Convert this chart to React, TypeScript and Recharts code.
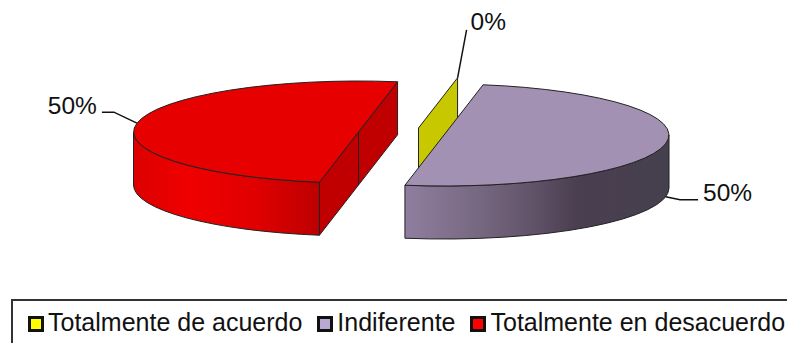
import { Legend, Pie, PieChart } from "recharts";

const categories = ["Totalmente de acuerdo", "Indiferente", "Totalmente en desacuerdo"];
const values = [0, 50, 50];

const pieData = categories.map((name, i) => ({ name, value: values[i] }));

const FONT = '"Liberation Sans", Arial, sans-serif';
const SQUASH = 0.2267; // ellipse ratio of the tilted disc
const DEPTH = 53;

// per-slice look: explode offset, top colour, wall gradient, label leader
const explode = [
  { x: 17, y: -5.5 },
  { x: 42.5, y: 1.5 },
  { x: -43, y: -1.5 },
];
const topColors = ["#c8c800", "#a391b4", "#e60000"];
const faceColors = ["#c8c800", "#7d6e8c", "#c00000"];
const legendColors = ["#ffff00", "#b9a8d2", "#ff0000"];
const wallStops: [string, string][][] = [
  [],
  [
    ["0%", "#8f7e9e"],
    ["30%", "#75667f"],
    ["50%", "#5f5166"],
    ["65%", "#4a3e50"],
    ["100%", "#45404e"],
  ],
  [
    ["0%", "#dc0000"],
    ["30%", "#f00000"],
    ["65%", "#e00000"],
    ["100%", "#be0000"],
  ],
];
const leaders = [
  { onBase: false, elbow: [9, -48], end: [9, -48], text: [13, -48], anchor: "start" },
  { onBase: true, elbow: [14.5, 3], end: [32.5, 3], text: [37.5, 4], anchor: "start" },
  { onBase: false, elbow: [-23, -11], end: [-35, -11], text: [-40, -9], anchor: "end" },
];

const rad = (deg: number) => (deg * Math.PI) / 180;

function rimPoint(cx: number, cy: number, r: number, angle: number) {
  return {
    x: cx + r * Math.cos(rad(angle)),
    y: cy - r * SQUASH * Math.sin(rad(angle)),
  };
}

function Slice3D(props: any) {
  const { cx, cy, outerRadius: r, startAngle: a1, endAngle: a2, name } = props;
  const i = categories.indexOf(name);
  const ox = cx + explode[i].x;
  const oy = cy + explode[i].y;
  const ry = r * SQUASH;
  const p1 = rimPoint(ox, oy, r, a1);
  const p2 = rimPoint(ox, oy, r, a2);
  const outline = { stroke: "#222", strokeWidth: 1, strokeLinejoin: "round" as const };

  const facePath = (a: number) => {
    const p = rimPoint(ox, oy, r, a);
    return `M${ox},${oy} L${p.x},${p.y} L${p.x},${p.y + DEPTH} L${ox},${oy + DEPTH} Z`;
  };

  // a cut face shows only when it turns towards the viewer
  const flat = a1 === a2;
  const startVisible = flat || Math.cos(rad(a1)) < 0;
  const endVisible = !flat && Math.sin(rad(a2 - 90)) < 0;

  // the outer wall exists only on the front half of the disc
  const hi = Math.min(a1, 0);
  const lo = Math.max(a2, -180);
  const gradId = `wall-${i}`;
  let wall = null;
  if (hi > lo) {
    const h = rimPoint(ox, oy, r, hi);
    const l = rimPoint(ox, oy, r, lo);
    wall = (
      <path
        d={`M${h.x},${h.y} A${r},${ry} 0 0 1 ${l.x},${l.y} L${l.x},${l.y + DEPTH} A${r},${ry} 0 0 0 ${h.x},${h.y + DEPTH} Z`}
        fill={`url(#${gradId})`}
        {...outline}
      />
    );
  }

  return (
    <g>
      <defs>
        <linearGradient id={gradId} x1="0" y1="0" x2="1" y2="0">
          {wallStops[i].map(([offset, color]) => (
            <stop key={offset} offset={offset} stopColor={color} />
          ))}
        </linearGradient>
      </defs>
      {startVisible && <path d={facePath(a1)} fill={faceColors[i]} {...outline} />}
      {endVisible && <path d={facePath(a2)} fill={faceColors[i]} {...outline} />}
      {wall}
      {!flat && (
        <path
          d={`M${ox},${oy} L${p1.x},${p1.y} A${r},${ry} 0 ${a1 - a2 > 180 ? 1 : 0} 1 ${p2.x},${p2.y} Z`}
          fill={topColors[i]}
          {...outline}
        />
      )}
    </g>
  );
}

function SliceLabel(props: any) {
  const { cx, cy, outerRadius: r, midAngle, name, value } = props;
  const i = categories.indexOf(name);
  const l = leaders[i];
  const p = rimPoint(cx + explode[i].x, cy + explode[i].y, r, midAngle);
  const ax = p.x;
  const ay = p.y + (l.onBase ? DEPTH : 0);
  return (
    <g>
      <polyline
        points={`${ax},${ay} ${ax + l.elbow[0]},${ay + l.elbow[1]} ${ax + l.end[0]},${ay + l.end[1]}`}
        fill="none"
        stroke="#111"
        strokeWidth={1.5}
      />
      <text
        x={ax + l.text[0]}
        y={ay + l.text[1]}
        textAnchor={l.anchor as any}
        fontFamily={FONT}
        fontSize={24.5}
        fill="#111"
      >
        {value}%
      </text>
    </g>
  );
}

function LegendBox() {
  return (
    <div
      style={{
        boxSizing: "border-box",
        width: 800,
        height: 60,
        border: "2px solid #333",
        fontFamily: FONT,
        fontSize: 25,
        color: "#111",
      }}
    >
      <div style={{ display: "flex", alignItems: "center", paddingLeft: 15, paddingTop: 7, whiteSpace: "nowrap" }}>
        {categories.map((name, i) => (
          <span key={name} style={{ display: "flex", alignItems: "center", marginRight: 15 }}>
            <span
              style={{
                display: "inline-block",
                boxSizing: "border-box",
                width: 16,
                height: 16,
                border: "3px solid #111",
                background: legendColors[i],
                marginRight: 4,
                position: "relative",
                top: 1,
              }}
            />
            {name}
          </span>
        ))}
      </div>
    </div>
  );
}

export default function App() {
  return (
    <div style={{ position: "absolute", left: 0, top: 0, width: 787, height: 343, overflow: "hidden", background: "#fff" }}>
      <PieChart width={787} height={343} margin={{ top: 0, right: 0, bottom: 0, left: 0 }}>
        <Pie
          data={pieData}
          dataKey="value"
          nameKey="name"
          cx={401.5}
          cy={133.5}
          outerRadius={225}
          startAngle={80}
          endAngle={-280}
          stroke="none"
          shape={Slice3D}
          label={SliceLabel}
          labelLine={false}
          isAnimationActive={false}
        />
        <Legend content={LegendBox} wrapperStyle={{ left: 11, top: 299, bottom: "auto", width: 800 }} />
      </PieChart>
    </div>
  );
}
